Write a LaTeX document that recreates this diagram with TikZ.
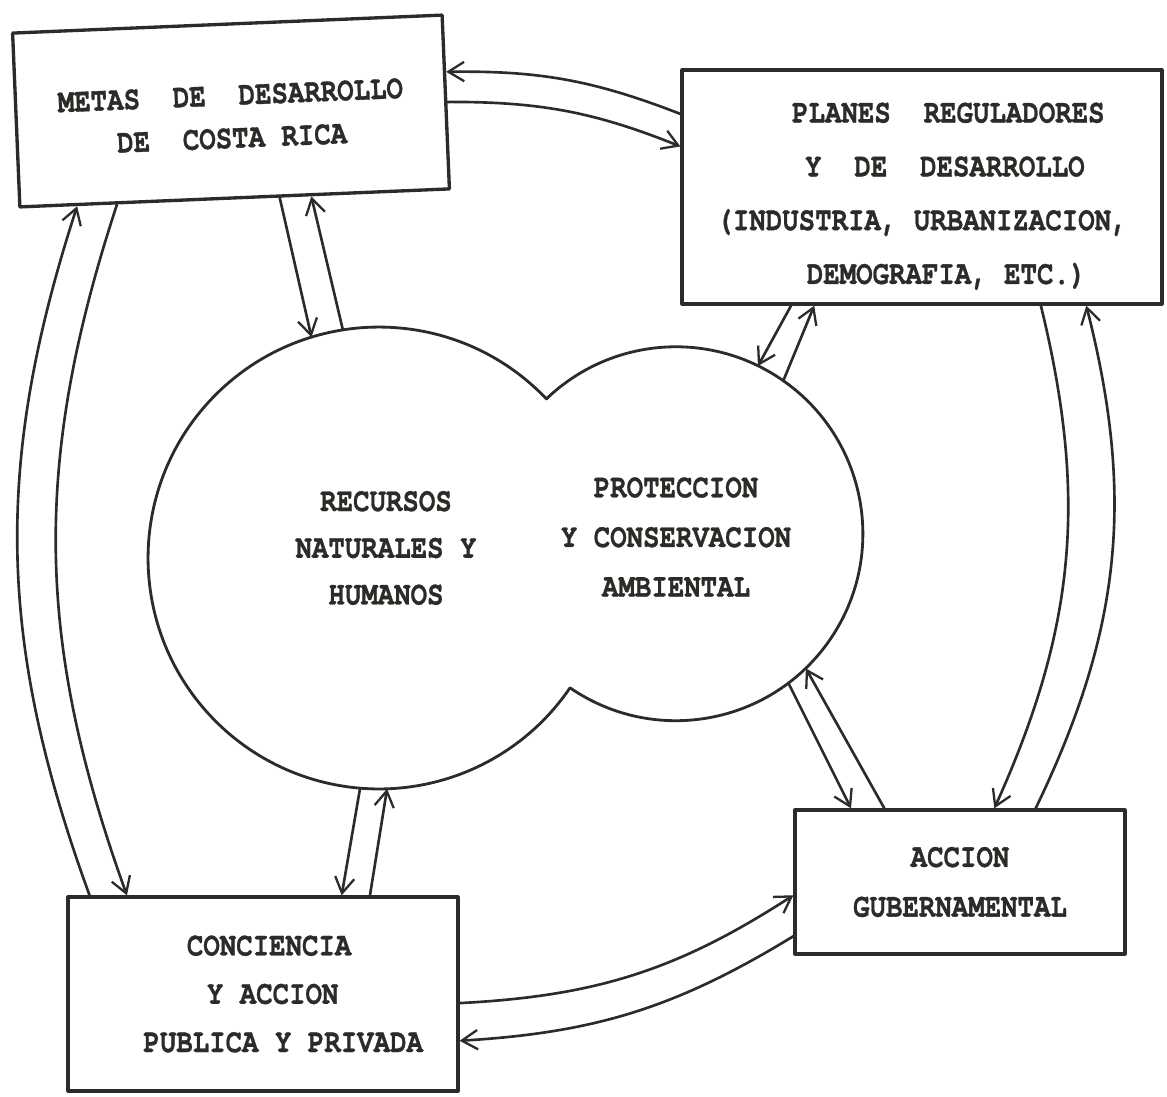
\documentclass[tikz,border=0pt]{standalone}
\usepackage{fontspec}
\usepackage{graphicx}
\usetikzlibrary{arrows.meta,calc}
\newfontfamily\twfont{texgyrecursor-bold.otf}[FakeBold=1]
\definecolor{ink}{RGB}{45,43,40}
\newcommand\tl[1]{\scalebox{1}[1.22]{#1}}
\begin{document}
\begin{tikzpicture}[x=0.02cm,y=-0.02cm,line join=round,line cap=round,
  box/.style={draw=ink,line width=1.9pt,rectangle,inner sep=0pt,align=center,text=ink},
  lbl/.style={inner sep=0pt,align=center,text=ink},
  outline/.style={draw=ink,line width=1.6pt},
  arr/.style={draw=ink,line width=1.5pt,-{Straight Barb[length=9pt,width=11pt,line width=1.3pt]}}]
\useasboundingbox (0,0) rectangle (1167,1096);
\fill[white] (0,0) rectangle (1167,1096);

% boxes
\node[box,rotate=2.4,minimum width=8.6cm,minimum height=3.48cm,
  font=\twfont\fontsize{15.6}{24.4}\selectfont] (metas) at (231,111)
  {\rule{0pt}{18pt}\tl{METAS~~DE~~DESARROLLO}\\\tl{DE~~COSTA RICA}};
\node[box,minimum width=9.6cm,minimum height=4.68cm,
  font=\twfont\fontsize{15.6}{30.6}\selectfont] (planes) at (922,187)
  {\rule{0pt}{22pt}\hspace*{30pt}\tl{PLANES~~REGULADORES}\\\hspace*{26pt}\tl{Y~~DE~~DESARROLLO}\\\tl{(INDUSTRIA, URBANIZACION,}\\\hspace*{28pt}\tl{DEMOGRAFIA, ETC.)}};
\node[box,minimum width=6.6cm,minimum height=2.88cm,
  font=\twfont\fontsize{15.6}{28.3}\selectfont] (accion) at (960,882)
  {\tl{ACCION}\\\tl{GUBERNAMENTAL}};
\node[box,minimum width=7.8cm,minimum height=3.88cm,
  font=\twfont\fontsize{15.6}{27.5}\selectfont] (conc) at (263,994)
  {\hspace*{7pt}\tl{CONCIENCIA}\\\hspace*{11pt}\tl{Y ACCION}\\\hspace*{23pt}\tl{PUBLICA Y PRIVADA}};

% double circle
\coordinate (Lc) at (379,558);
\coordinate (Rc) at (676,534);
\draw[outline] ($(Lc)+(43.5:4.62cm)$) arc[start angle=43.5,end angle=325.8,radius=4.62cm]
  arc[start angle=235.5,end angle=493.8,radius=3.74cm] -- cycle;
\node[lbl,font=\twfont\fontsize{15.6}{26.6}\selectfont] (recT) at (386,548)
  {\tl{RECURSOS}\\\tl{NATURALES Y}\\\tl{HUMANOS}};
\node[lbl,font=\twfont\fontsize{15.6}{28.3}\selectfont] (proT) at (676,537)
  {\tl{PROTECCION}\\\tl{Y CONSERVACION}\\\tl{AMBIENTAL}};

% attach points on the circle
\coordinate (p1) at ($(Lc)+(107:4.62cm)$);
\coordinate (p2) at ($(Lc)+(99:4.62cm)$);
\coordinate (p3) at ($(Rc)+(64:3.74cm)$);
\coordinate (p4) at ($(Rc)+(55:3.74cm)$);
\coordinate (p5) at ($(Rc)+(-53:3.74cm)$);
\coordinate (p6) at ($(Rc)+(-46:3.74cm)$);
\coordinate (p7) at ($(Lc)+(-94.7:4.62cm)$);
\coordinate (p8) at ($(Lc)+(-88:4.62cm)$);

% attach points on boxes
\coordinate (meB1) at ($(metas.south west)!0.604!(metas.south east)$);
\coordinate (meB2) at ($(metas.south west)!0.677!(metas.south east)$);
\coordinate (meB3) at ($(metas.south west)!0.136!(metas.south east)$);
\coordinate (meB4) at ($(metas.south west)!0.228!(metas.south east)$);
\coordinate (meR1) at ($(metas.north east)!0.33!(metas.south east)$);
\coordinate (meR2) at ($(metas.north east)!0.50!(metas.south east)$);
\coordinate (plL1) at ($(planes.north west)!0.192!(planes.south west)$);
\coordinate (plL2) at ($(planes.north west)!0.329!(planes.south west)$);
\coordinate (plB1) at ($(planes.south west)!0.229!(planes.south east)$);
\coordinate (plB2) at ($(planes.south west)!0.277!(planes.south east)$);
\coordinate (plB3) at ($(planes.south west)!0.746!(planes.south east)$);
\coordinate (plB4) at ($(planes.south west)!0.840!(planes.south east)$);
\coordinate (acT1) at ($(accion.north west)!0.173!(accion.north east)$);
\coordinate (acT2) at ($(accion.north west)!0.273!(accion.north east)$);
\coordinate (acT3) at ($(accion.north west)!0.603!(accion.north east)$);
\coordinate (acT4) at ($(accion.north west)!0.727!(accion.north east)$);
\coordinate (acL1) at ($(accion.north west)!0.59!(accion.south west)$);
\coordinate (acL2) at ($(accion.north west)!0.868!(accion.south west)$);
\coordinate (coT1) at ($(conc.north west)!0.059!(conc.north east)$);
\coordinate (coT2) at ($(conc.north west)!0.154!(conc.north east)$);
\coordinate (coT3) at ($(conc.north west)!0.70!(conc.north east)$);
\coordinate (coT4) at ($(conc.north west)!0.772!(conc.north east)$);
\coordinate (coR1) at ($(conc.north east)!0.546!(conc.south east)$);
\coordinate (coR2) at ($(conc.north east)!0.737!(conc.south east)$);

% connectors
\draw[arr] (plL1) to[bend right=11] (meR1);
\draw[arr] (meR2) to[bend left=11] (plL2);
\draw[arr] (meB1) -- (p1);
\draw[arr] (p2) -- (meB2);
\draw[arr] (plB1) -- (p3);
\draw[arr] (p4) -- (plB2);
\draw[arr] (plB3) to[bend left=19] (acT3);
\draw[arr] (acT4) to[bend right=20] (plB4);
\draw[arr] (p5) -- (acT1);
\draw[arr] (acT2) -- (p6);
\draw[arr] (p7) -- (coT3);
\draw[arr] (coT4) -- (p8);
\draw[arr] (coT1) to[bend left=19] (meB3);
\draw[arr] (meB4) to[bend right=19] (coT2);
\draw[arr] (coR1) to[bend right=15] (acL1);
\draw[arr] (acL2) to[bend left=14] (coR2);
\end{tikzpicture}
\end{document}
